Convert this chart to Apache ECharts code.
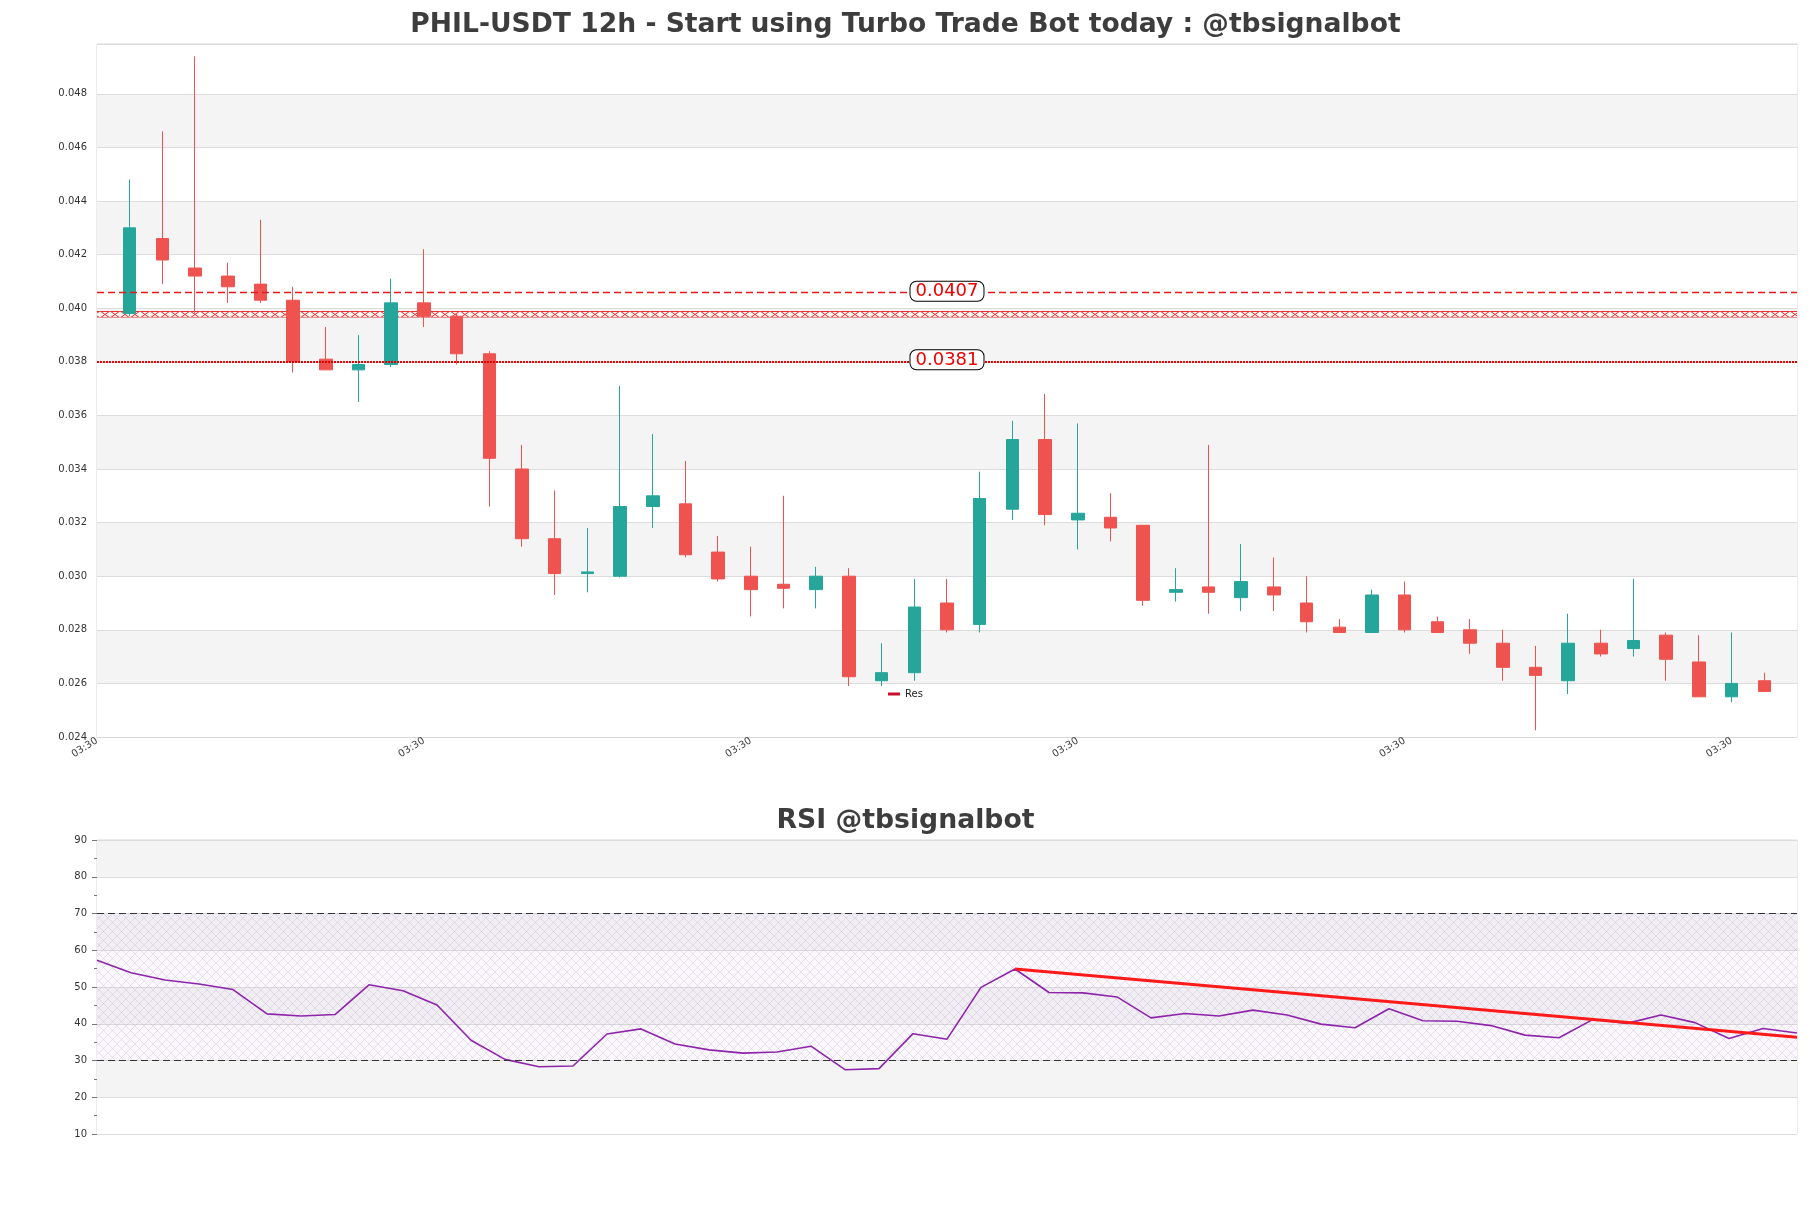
<!DOCTYPE html>
<html>
<head>
<meta charset="utf-8">
<title>PHIL-USDT 12h</title>
<script src="https://cdn.jsdelivr.net/npm/echarts@6/dist/echarts.min.js"></script>
<style>
  html, body { margin: 0; padding: 0; background: #fff; }
  #chart { width: 1811px; height: 1208px; }
</style>
</head>
<body>
<div id="chart"></div>
<script>
// one empty slot on each side of the candles, like the original plot
var timeLabels = [
  '03:30', '15:30', '03:30', '15:30', '03:30', '15:30', '03:30', '15:30', '03:30', '15:30',
  '03:30', '15:30', '03:30', '15:30', '03:30', '15:30', '03:30', '15:30', '03:30', '15:30',
  '03:30', '15:30', '03:30', '15:30', '03:30', '15:30', '03:30', '15:30', '03:30', '15:30',
  '03:30', '15:30', '03:30', '15:30', '03:30', '15:30', '03:30', '15:30', '03:30', '15:30',
  '03:30', '15:30', '03:30', '15:30', '03:30', '15:30', '03:30', '15:30', '03:30', '15:30',
  '03:30', '15:30', '03:30'
];

var opens = [
  0.0398, 0.0426, 0.0415, 0.0412, 0.0409, 0.0403, 0.0381, 0.0377, 0.0379, 0.0402,
  0.0397, 0.0383, 0.0340, 0.0314, 0.0301, 0.0300, 0.0326, 0.0327, 0.0309, 0.0300,
  0.0297, 0.0295, 0.0300, 0.0261, 0.0264, 0.0290, 0.0282, 0.0325, 0.0351, 0.0321,
  0.0322, 0.0319, 0.0294, 0.0296, 0.0292, 0.0296, 0.0290, 0.0281, 0.0279, 0.0293,
  0.0283, 0.0280, 0.0275, 0.0266, 0.0261, 0.0275, 0.0273, 0.0278, 0.0268, 0.0255,
  0.0261
];
var closes = [
  0.0430, 0.0418, 0.0412, 0.0408, 0.0403, 0.0380, 0.0377, 0.0379, 0.0402, 0.0397,
  0.0383, 0.0344, 0.0314, 0.0301, 0.03016, 0.0326, 0.0330, 0.0308, 0.0299, 0.0295,
  0.02955, 0.0300, 0.02625, 0.0264, 0.02885, 0.0280, 0.0329, 0.0351, 0.0323, 0.03235,
  0.0318, 0.0291, 0.0295, 0.0294, 0.0298, 0.0293, 0.0283, 0.0279, 0.0293, 0.0280,
  0.0279, 0.0275, 0.0266, 0.0263, 0.0275, 0.0271, 0.0276, 0.0269, 0.0255, 0.0260,
  0.0257
];
var lows = [
  0.0397, 0.0409, 0.0398, 0.0402, 0.0402, 0.0376, 0.0377, 0.0365, 0.0378, 0.0393,
  0.0379, 0.0326, 0.0311, 0.0293, 0.0294, 0.02995, 0.0318, 0.0307, 0.0298, 0.0285,
  0.0288, 0.0288, 0.0259, 0.0259, 0.0261, 0.0279, 0.0279, 0.0321, 0.0319, 0.0310,
  0.0313, 0.0289, 0.02905, 0.0286, 0.0287, 0.0287, 0.0279, 0.0279, 0.0279, 0.0279,
  0.0279, 0.0271, 0.0261, 0.02425, 0.0256, 0.0270, 0.0270, 0.0261, 0.0255, 0.0253,
  0.0257
];
var highs = [
  0.0448, 0.0466, 0.0494, 0.0417, 0.0433, 0.0408, 0.0393, 0.0390, 0.0411, 0.0422,
  0.0398, 0.0384, 0.0349, 0.0332, 0.0318, 0.0371, 0.0353, 0.0343, 0.0315, 0.0311,
  0.0330, 0.03035, 0.0303, 0.0275, 0.0299, 0.0299, 0.0339, 0.0358, 0.0368, 0.0357,
  0.0331, 0.0319, 0.0303, 0.0349, 0.0312, 0.0307, 0.0300, 0.0284, 0.0295, 0.0298,
  0.0285, 0.0284, 0.0280, 0.0274, 0.0286, 0.0280, 0.0299, 0.0279, 0.0278, 0.0279,
  0.0264
];

var rsiValues = [
  57.3, 53.9, 51.9, 50.8, 49.3, 42.7, 42.1, 42.5, 50.6, 49.0,
  45.1, 35.5, 30.3, 28.3, 28.5, 37.2, 38.6, 34.5, 32.9, 32.0,
  32.3, 33.9, 27.5, 27.8, 37.3, 35.8, 49.9, 54.9, 48.5, 48.4,
  47.3, 41.6, 42.8, 42.1, 43.7, 42.4, 39.9, 38.9, 44.1, 40.8,
  40.7, 39.5, 36.9, 36.2, 41.2, 40.1, 42.4, 40.3, 36.0, 38.7,
  37.5
];
var rsiTrend = [[27, 54.9], [50, 36.3]];
var rsiBands = [30, 70];

var resLevels = [0.04058, 0.03802];
var resLabels = ['0.0407', '0.0381'];
var resZone = [0.03965, 0.0399];

var priceTicks = { min: 0.024, max: 0.04986, step: 0.002 };
var rsiTicks = { min: 10, max: 90, step: 10 };

// candlestick rows: [open, close, low, high], padded with empty slots
var candleData = ['-'];
for (var i = 0; i < opens.length; i++) {
  candleData.push([opens[i], closes[i], lows[i], highs[i]]);
}
candleData.push('-');

var FONT = 'DejaVu Sans';

function makeTile(w, h, stroke, lw, bg, bars) {
  var c = document.createElement('canvas');
  c.width = w;
  c.height = h;
  var ctx = c.getContext('2d');
  if (bg) {
    ctx.fillStyle = bg;
    ctx.fillRect(0, 0, w, h);
  }
  ctx.strokeStyle = stroke;
  ctx.lineWidth = lw;
  ctx.beginPath();
  ctx.moveTo(0, 0); ctx.lineTo(w, h);
  ctx.moveTo(w, 0); ctx.lineTo(0, h);
  if (bars) {
    ctx.moveTo(1, 0.5); ctx.lineTo(w - 1, 0.5);
    ctx.moveTo(1, h - 0.5); ctx.lineTo(w - 1, h - 0.5);
  }
  ctx.stroke();
  return c;
}

var zoneTile = makeTile(10, 7, '#e5262b', 1, '#fffaf4', true);
var rsiTile = makeTile(9, 9, 'rgba(150,115,175,0.3)', 0.6, 'rgba(215,185,235,0.10)', false);

var labelBox = {
  show: true, position: 'middle', distance: 0, offset: [0, 8],
  color: '#ee0000', fontSize: 18, fontFamily: FONT,
  backgroundColor: '#ffffff', borderColor: '#000', borderWidth: 1, borderRadius: 6,
  padding: [1, 5, 0, 5]
};

var chart = echarts.init(document.getElementById('chart'));

var option = {
  animation: false,
  backgroundColor: '#ffffff',
  textStyle: { fontFamily: FONT },
  title: [
    {
      text: 'PHIL-USDT 12h - Start using Turbo Trade Bot today : @tbsignalbot',
      left: 'center', top: 7,
      textStyle: { fontFamily: FONT, fontWeight: 'bold', fontSize: 26.6, color: '#3d3d3d' }
    },
    {
      text: 'RSI @tbsignalbot',
      left: 'center', top: 803,
      textStyle: { fontFamily: FONT, fontWeight: 'bold', fontSize: 26.7, color: '#3d3d3d' }
    }
  ],
  legend: {
    data: ['Res'],
    left: 883, top: 684,
    icon: 'rect', itemWidth: 12, itemHeight: 3, itemGap: 6,
    textStyle: { fontFamily: FONT, fontSize: 10, color: '#222' }
  },
  grid: [
    { left: 97, right: 14, top: 44, height: 693, show: true, borderColor: '#d9d9d9', borderWidth: 1 },
    { left: 97, right: 14, top: 840, height: 294, show: true, borderColor: '#d9d9d9', borderWidth: 1 }
  ],
  xAxis: [
    {
      type: 'category', gridIndex: 0, data: timeLabels, boundaryGap: false,
      axisLine: { show: true, lineStyle: { color: '#d9d9d9' } },
      axisTick: { show: false },
      axisLabel: { interval: 9, rotate: 32, fontSize: 10, color: '#3a3a3a', margin: 3, fontFamily: FONT },
      splitLine: { show: false }
    },
    {
      type: 'category', gridIndex: 1, data: timeLabels.slice(1, 52), boundaryGap: false,
      axisLine: { show: false }, axisTick: { show: false }, axisLabel: { show: false },
      splitLine: { show: false }
    }
  ],
  yAxis: [
    {
      type: 'value', gridIndex: 0,
      min: priceTicks.min, max: priceTicks.max, interval: priceTicks.step,
      axisLine: { show: false }, axisTick: { show: false },
      axisLabel: {
        fontSize: 10, color: '#333', margin: 10, fontFamily: FONT, showMaxLabel: false,
        formatter: function (v) { return v.toFixed(3); }
      },
      splitLine: { lineStyle: { color: '#dcdcdc', width: 1 } },
      splitArea: { show: true, areaStyle: { color: ['#ffffff', '#f4f4f4'] } }
    },
    {
      type: 'value', gridIndex: 1,
      min: rsiTicks.min, max: rsiTicks.max, interval: rsiTicks.step,
      axisLine: { show: false },
      axisTick: { show: true, length: 5, lineStyle: { color: '#777' } },
      minorTick: { show: true, splitNumber: 2, length: 3, lineStyle: { color: '#777' } },
      axisLabel: { fontSize: 10, color: '#333', margin: 10, fontFamily: FONT },
      splitLine: { lineStyle: { color: '#dcdcdc', width: 1 } },
      splitArea: { show: true, areaStyle: { color: ['#ffffff', '#f4f4f4'] } }
    }
  ],
  series: [
    {
      type: 'candlestick', name: 'PHIL-USDT',
      xAxisIndex: 0, yAxisIndex: 0,
      data: candleData,
      barWidth: 13,
      itemStyle: {
        color: '#26a69a', color0: '#ef5350',
        borderColor: '#26a69a', borderColor0: '#ef5350', borderWidth: 1
      },
      markArea: {
        silent: true,
        label: { show: false },
        itemStyle: { color: { image: zoneTile, repeat: 'repeat' }, opacity: 1 },
        data: [[{ yAxis: resZone[0] }, { yAxis: resZone[1] }]]
      },
      markLine: {
        silent: true, symbol: 'none', precision: 6,
        label: labelBox,
        data: [
          {
            yAxis: resLevels[0],
            lineStyle: { type: [7, 4], width: 1.3, color: '#e31a1c' },
            label: { formatter: resLabels[0] }
          },
          {
            yAxis: resLevels[1],
            lineStyle: { type: [2, 1], width: 2.2, color: '#e00000' },
            label: { formatter: resLabels[1] }
          }
        ]
      }
    },
    {
      type: 'line', name: 'Res',
      xAxisIndex: 0, yAxisIndex: 0,
      data: [],
      color: '#c8102e'
    },
    {
      type: 'line', name: 'RSI',
      xAxisIndex: 1, yAxisIndex: 1,
      data: rsiValues,
      showSymbol: false,
      lineStyle: { color: '#8e24aa', width: 1.6 },
      itemStyle: { color: '#8e24aa' },
      z: 3,
      markArea: {
        silent: true,
        label: { show: false },
        itemStyle: { color: { image: rsiTile, repeat: 'repeat' }, opacity: 1 },
        data: [[{ yAxis: rsiBands[0] }, { yAxis: rsiBands[1] }]]
      },
      markLine: {
        silent: true, symbol: 'none',
        label: { show: false },
        lineStyle: { type: [7, 4], width: 1.2, color: '#333' },
        data: [{ yAxis: rsiBands[1] }, { yAxis: rsiBands[0] }]
      }
    },
    {
      type: 'line', name: 'RSI trend',
      xAxisIndex: 1, yAxisIndex: 1,
      data: rsiTrend,
      showSymbol: false,
      lineStyle: { color: '#ff1a1a', width: 3 },
      z: 4
    }
  ]
};

chart.setOption(option);

// anchor the hatch tile to the top of the zone so the crosses are not cut
var zoneTop = chart.convertToPixel({ yAxisIndex: 0 }, resZone[1]);
option.series[0].markArea.itemStyle.color = { image: zoneTile, repeat: 'repeat', x: 0, y: zoneTop };
chart.setOption(option);

window.addEventListener('resize', function () {
  chart.resize();
});
</script>
</body>
</html>
